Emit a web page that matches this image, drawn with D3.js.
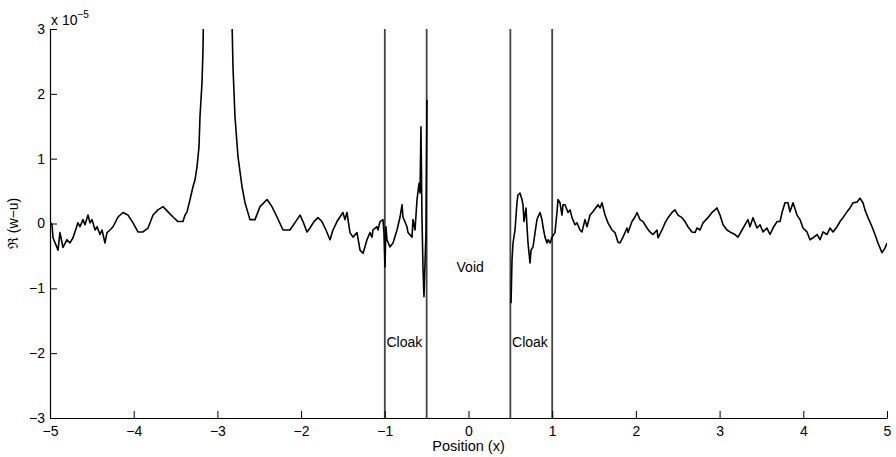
<!DOCTYPE html>
<html lang="en">
  <head>
    <meta charset="utf-8">
    <title>cloak field</title>
    <style>
      body { margin: 0; background: #fff; }
      text { font-family: "Liberation Sans", Arial, sans-serif; }
    </style>
  </head>
  <body>

<script src="https://d3js.org/d3.v7.min.js"></script>

<script>

// field samples, x position and Re(w-u) in units of 1e-5 (null = gap over the void)
var posX = [-5.00,-4.976,-4.964,-4.904,-4.881,-4.845,-4.797,-4.761,-4.725,-4.666,-4.642,-4.606,-4.582,-4.546,-4.522,-4.498,-4.462,-4.438,-4.403,-4.379,-4.343,-4.319,-4.283,-4.247,-4.188,-4.128,-4.068,-4.008,-3.949,-3.889,-3.829,-3.769,-3.710,-3.650,-3.590,-3.530,-3.471,-3.411,-3.387,-3.363,-3.327,-3.291,-3.268,-3.244,-3.220,-3.208,-3.184,-3.172,-3.165,
  -2.828,-2.814,-2.790,-2.754,-2.706,-2.670,-2.611,-2.551,-2.491,-2.407,-2.348,-2.288,-2.216,-2.133,-2.049,-2.013,-1.977,-1.930,-1.894,-1.846,-1.798,-1.751,-1.703,-1.655,-1.619,-1.571,-1.536,-1.500,-1.476,-1.452,-1.416,-1.380,-1.332,-1.296,-1.260,-1.237,-1.213,-1.177,-1.153,-1.141,-1.093,-1.081,-1.057,-1.022,-1.010,-0.998,-0.986,-0.974,-0.938,-0.902,-0.854,-0.818,-0.794,-0.783,-0.735,-0.723,-0.675,-0.663,-0.639,-0.615,-0.591,-0.579,-0.568,-0.556,-0.544,-0.532,-0.508,-0.496,
  0,
  0.508,0.520,0.532,0.556,0.579,0.591,0.615,0.639,0.651,0.663,0.687,0.699,0.711,0.735,0.747,0.771,0.795,0.818,0.830,0.854,0.878,0.890,0.914,0.938,0.950,0.974,0.998,1.033,1.057,1.069,1.093,1.117,1.129,1.153,1.189,1.213,1.237,1.272,1.296,1.332,1.356,1.392,1.416,1.452,1.487,1.547,1.571,1.595,1.631,1.667,1.714,1.750,1.786,1.810,1.846,1.894,1.906,1.953,1.989,2.013,2.049,2.085,2.133,2.168,2.204,2.252,2.264,2.312,2.348,2.384,2.431,2.467,2.503,2.551,2.587,2.622,2.670,2.706,2.730,2.766,2.802,2.861,2.909,2.945,2.969,3.005,3.041,3.088,3.124,3.184,3.220,3.268,3.303,3.339,3.363,3.399,3.447,3.483,3.519,3.566,3.602,3.638,3.686,3.722,3.746,3.781,3.817,3.841,3.877,3.925,3.961,3.996,4.044,4.080,4.116,4.164,4.200,4.235,4.283,4.319,4.355,4.403,4.438,4.474,4.522,4.558,4.594,4.642,4.677,4.713,4.737,4.773,4.821,4.857,4.892,4.940,4.976,5.00];

var reWU = [0.03,-0.02,-0.22,-0.41,-0.14,-0.37,-0.25,-0.30,-0.22,0.01,-0.05,0.06,-0.02,0.13,0.01,0.06,-0.10,-0.05,-0.17,-0.10,-0.30,-0.14,-0.10,-0.05,0.10,0.17,0.13,0.01,-0.13,-0.13,-0.07,0.13,0.21,0.26,0.18,0.10,0.03,0.03,0.13,0.18,0.37,0.57,0.67,0.87,1.18,1.65,2.17,2.68,3.30,
  3.30,2.42,1.65,1.03,0.57,0.32,0.06,0.06,0.26,0.37,0.26,0.10,-0.10,-0.10,0.06,0.13,0.03,-0.13,-0.07,0.03,0.09,0.03,-0.10,-0.25,-0.10,0.03,0.10,0.17,0.06,0.17,-0.14,-0.21,-0.14,-0.41,-0.46,-0.36,-0.25,-0.14,-0.21,-0.10,-0.05,-0.10,0.03,0.06,-0.14,-0.67,-0.05,-0.25,-0.36,-0.30,-0.10,0.10,0.29,0.10,-0.05,-0.14,-0.21,0.06,-0.10,0.37,0.62,0.47,1.49,0.10,-0.67,-1.13,-0.14,1.91,
  null,
  -1.23,-0.56,-0.30,-0.10,0.32,0.44,0.47,0.37,0.29,0.03,0.24,-0.05,-0.30,-0.61,-0.41,-0.36,-0.14,0.06,0.10,0.17,0.06,-0.05,-0.21,-0.30,-0.25,-0.30,-0.21,-0.14,0.17,0.37,0.32,0.13,0.29,0.29,0.17,0.21,0.09,-0.02,0.01,-0.10,-0.13,0.06,-0.05,0.13,0.18,0.29,0.24,0.32,0.13,0.01,-0.10,-0.14,-0.29,-0.30,-0.21,-0.07,-0.14,0.03,0.10,0.17,0.06,0.03,-0.07,-0.13,-0.17,-0.10,-0.22,-0.10,0.01,0.09,0.17,0.21,0.13,0.09,0.03,-0.05,-0.13,-0.14,-0.07,-0.10,0.01,0.09,0.17,0.21,0.24,0.13,-0.02,-0.10,-0.13,-0.17,-0.21,-0.10,-0.02,0.06,-0.05,0.09,-0.07,-0.02,-0.13,-0.07,-0.17,-0.07,0.03,0.03,0.17,0.32,0.32,0.18,0.32,0.13,0.06,-0.07,-0.13,-0.25,-0.22,-0.17,-0.25,-0.13,-0.17,-0.07,-0.13,-0.05,0.03,0.09,0.18,0.24,0.32,0.33,0.39,0.32,0.21,0.09,-0.05,-0.17,-0.30,-0.45,-0.38,-0.30];

// cloak / void boundaries and labels
var boundaries = [-1, -0.5, 0.5, 1];
var regionLabels = ["Cloak", "Void", "Cloak"];
var regionX = [-0.98, 0.02, 0.52];
var regionY = [-1.9, -0.75, -1.9];

var xTicks = [-5, -4, -3, -2, -1, 0, 1, 2, 3, 4, 5];
var yTicks = [-3, -2, -1, 0, 1, 2, 3];

var W = 896, H = 457;
var m = {left: 50, right: 9, top: 29, bottom: 39};
var fs = 14;

var svg = d3.select("body").append("svg")
            .attr("width", W)
            .attr("height", H);

var x = d3.scaleLinear().domain([-5, 5]).range([m.left, W - m.right]);
var y = d3.scaleLinear().domain([-3, 3]).range([H - m.bottom, m.top]);

svg.append("clipPath").attr("id", "plot")
   .append("rect")
   .attr("x", m.left).attr("y", m.top)
   .attr("width", W - m.left - m.right)
   .attr("height", H - m.top - m.bottom);

//boundary lines
svg.selectAll(".bnd").data(boundaries).enter().append("line")
   .attr("x1", function(d){ return x(d); })
   .attr("x2", function(d){ return x(d); })
   .attr("y1", y(3))
   .attr("y2", y(-3))
   .attr("stroke", "#444")
   .attr("stroke-width", 1.8);

//curve
var pts = posX.map(function(d, i){ return [d, reWU[i]]; });
var line = d3.line()
             .defined(function(d){ return d[1] !== null; })
             .x(function(d){ return x(d[0]); })
             .y(function(d){ return y(d[1]); });

svg.append("path")
   .datum(pts)
   .attr("clip-path", "url(#plot)")
   .attr("d", line)
   .attr("fill", "none")
   .attr("stroke", "#000")
   .attr("stroke-width", 1.6)
   .attr("stroke-linejoin", "round");

//region labels
svg.selectAll(".lab").data(regionLabels).enter().append("text")
   .attr("x", function(d, i){ return x(regionX[i]); })
   .attr("y", function(d, i){ return y(regionY[i]); })
   .attr("text-anchor", function(d, i){ return i == 1 ? "middle" : "start"; })
   .attr("font-size", fs)
   .text(function(d){ return d; });

//axes
var xAxis = svg.append("g")
               .attr("transform", "translate(0," + (H - m.bottom) + ")")
               .call(d3.axisBottom(x).tickValues(xTicks).tickFormat(d3.format("d"))
                       .tickSizeInner(-7).tickSizeOuter(0).tickPadding(8));
var yAxis = svg.append("g")
               .attr("transform", "translate(" + m.left + ",0)")
               .call(d3.axisLeft(y).tickValues(yTicks).tickFormat(d3.format("d"))
                       .tickSizeInner(-7).tickSizeOuter(0).tickPadding(5));

[xAxis, yAxis].forEach(function(g){
  g.select(".domain").attr("stroke", "#000").attr("stroke-width", 1.2);
  g.selectAll(".tick line").attr("stroke", "#000");
  g.selectAll(".tick text").attr("font-size", fs).attr("fill", "#000")
   .attr("font-family", "Liberation Sans, Arial, sans-serif");
});

//axis labels
svg.append("text")
   .attr("x", x(0))
   .attr("y", H - 6)
   .attr("text-anchor", "middle")
   .attr("font-size", 14.5)
   .text("Position (x)");

svg.append("text")
   .attr("transform", "translate(18," + y(0) + ") rotate(-90)")
   .attr("text-anchor", "middle")
   .attr("font-size", fs)
   .text("\u211C (w\u2212u)");

var expo = svg.append("text")
              .attr("x", m.left + 1)
              .attr("y", m.top - 4)
              .attr("font-size", fs)
              .text("x 10");
expo.append("tspan")
    .attr("dy", -7)
    .attr("font-size", 10)
    .text("\u22125");

</script>

  </body>
</html>
